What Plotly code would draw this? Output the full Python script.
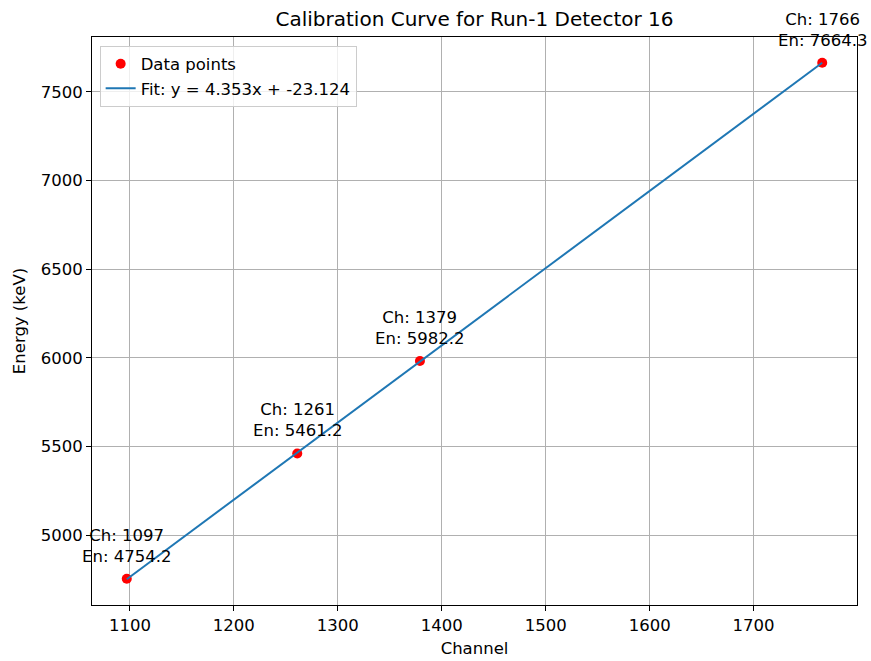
import plotly.graph_objects as go

channels = [1097, 1261, 1379, 1766]
energies = [4754.2, 5461.2, 5982.2, 7664.3]
slope = 4.353
intercept = -23.124
fit_x = [min(channels), max(channels)]
fit_y = [slope * c + intercept for c in fit_x]

FONT = "DejaVu Sans"
FS = 16.5

fig = go.Figure()
fig.add_trace(go.Scatter(x=channels, y=energies, mode="markers",
                         marker=dict(color="red", size=10),
                         name="Data points"))
fig.add_trace(go.Scatter(x=fit_x, y=fit_y, mode="lines",
                         line=dict(color="#1f77b4", width=2),
                         name=f"Fit: y = {slope:.3f}x + {intercept:.3f}"))

for c, e in zip(channels, energies):
    fig.add_annotation(x=c, y=e, xref="x", yref="y",
                       text=f"Ch: {c}<br>En: {e:.1f}",
                       showarrow=False, yanchor="bottom", xanchor="center",
                       yshift=11, font=dict(family=FONT, size=FS, color="black"))

xmin, xmax = min(channels), max(channels)
ymin, ymax = min(min(energies), min(fit_y)), max(max(energies), max(fit_y))
xpad = 0.05 * (xmax - xmin)
ypad = 0.05 * (ymax - ymin)

axis_common = dict(showline=True, linecolor="black", linewidth=1, mirror=True,
                   ticks="outside", ticklen=5, tickcolor="black",
                   showgrid=True, gridcolor="#b0b0b0", gridwidth=1,
                   zeroline=False, automargin=False,
                   tickfont=dict(family=FONT, size=FS, color="black"))

fig.update_layout(
    width=871, height=661,
    margin=dict(l=92, r=14, t=37, b=56),
    paper_bgcolor="white", plot_bgcolor="white",
    title=dict(text="Calibration Curve for Run-1 Detector 16",
               x=(92 + 857) / 2 / 871, xanchor="center",
               y=1 - 19 / 661, yanchor="middle",
               font=dict(family=FONT, size=20, color="black")),
    xaxis=dict(range=[xmin - xpad, xmax + xpad], dtick=100, tick0=0,
               title=dict(text="Channel", font=dict(family=FONT, size=FS, color="black"), standoff=8),
               **axis_common),
    yaxis=dict(range=[ymin - ypad, ymax + ypad], dtick=500, tick0=0,
               title=dict(text="Energy (keV)", font=dict(family=FONT, size=FS, color="black"), standoff=10),
               **axis_common),
    legend=dict(x=0.01, y=0.985, xanchor="left", yanchor="top",
                bgcolor="rgba(255,255,255,0.8)", bordercolor="#cccccc", borderwidth=1,
                font=dict(family=FONT, size=FS, color="black")),
    showlegend=True,
)

fig.write_html("out.html")
